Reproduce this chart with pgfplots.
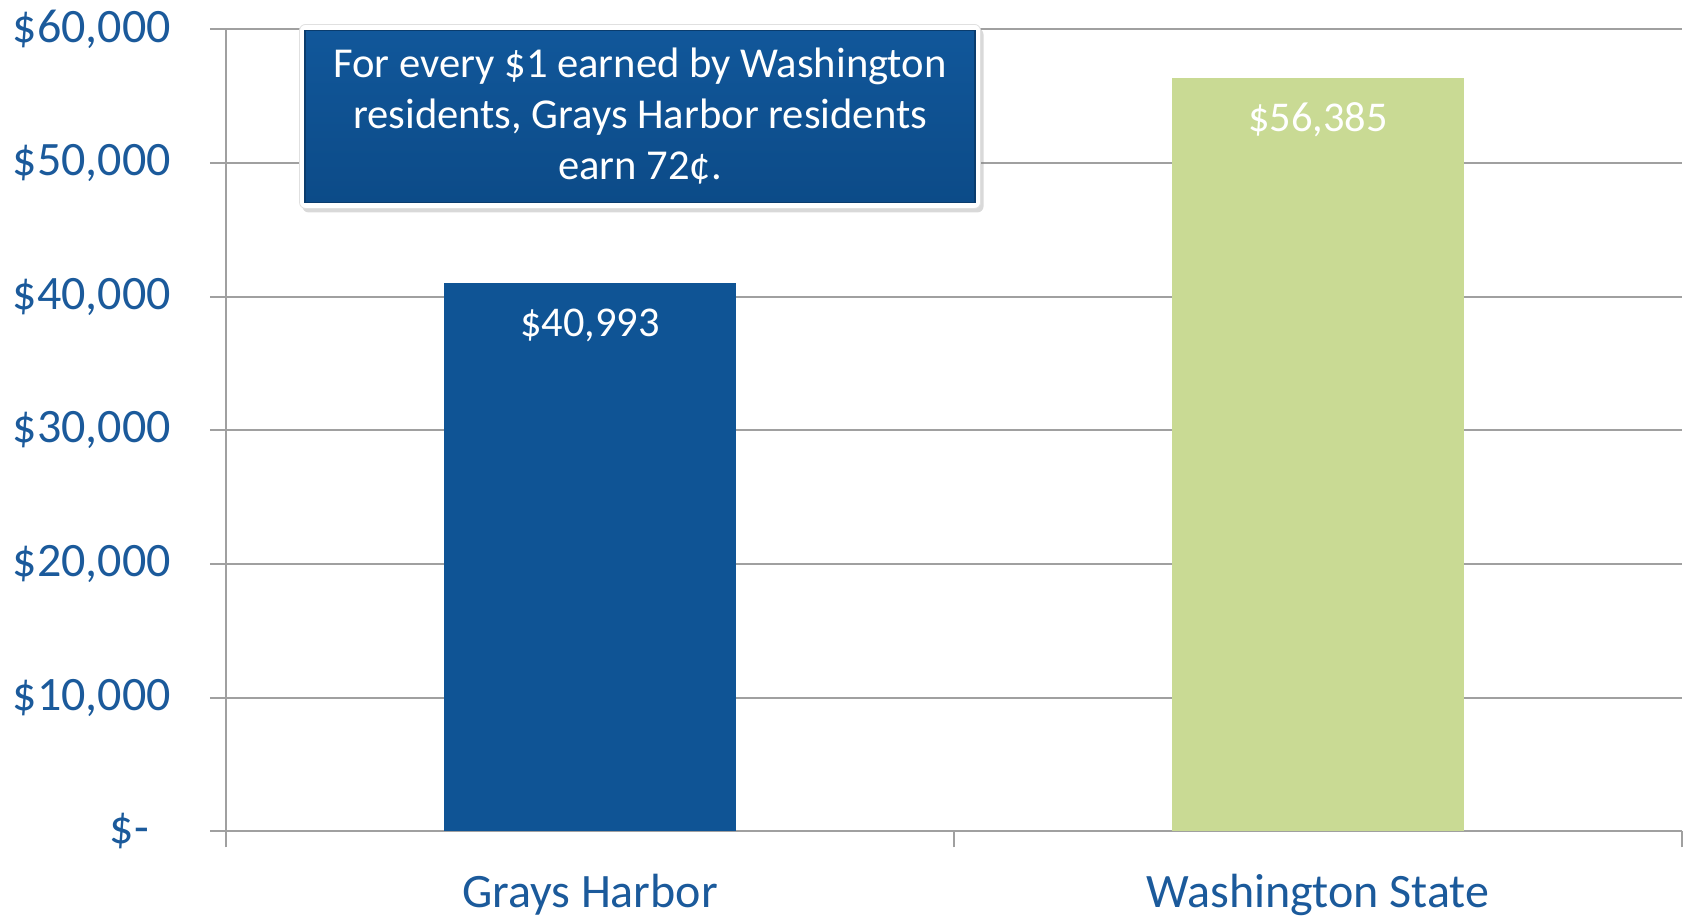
\documentclass[border=0pt]{standalone}
\usepackage{fontspec}
\setmainfont{Carlito}
\usepackage{pgfplots}
\pgfplotsset{compat=1.18}
\usetikzlibrary{shadows}
\definecolor{barblue}{HTML}{0F5495}
\definecolor{bargreen}{HTML}{C9DA94}
\definecolor{labblue}{HTML}{1B5A9B}
\definecolor{gridgray}{HTML}{A0A0A0}
\definecolor{boxtop}{HTML}{11579A}
\definecolor{boxbot}{HTML}{0C4B88}
\begin{document}
\begin{tikzpicture}
\begin{axis}[
  scale only axis, width=728pt, height=401pt,
  xmin=-0.5, xmax=1.5, ymin=0, ymax=60000,
  scaled y ticks=false,
  axis x line=bottom, axis y line=left,
  axis line style={gridgray, line width=1pt, -},
  xtick={0,1}, xticklabels={Grays Harbor, Washington State},
  minor xtick={-0.5,0.5,1.5},
  major x tick style={draw=none},
  minor x tick style={gridgray, line width=1pt},
  ytick={0,10000,20000,30000,40000,50000,60000},
  yticklabels={{\$-\hspace*{11pt}},{\$10,000},{\$20,000},{\$30,000},{\$40,000},{\$50,000},{\$60,000}},
  y tick style={gridgray, line width=1pt},
  tick align=outside, major tick length=8pt, minor tick length=8pt,
  ymajorgrids, grid style={gridgray, line width=1pt},
  yticklabel style={anchor=east, inner sep=0pt, xshift=-19.4pt, text=labblue, font=\fontsize{24}{28}\selectfont},
  xticklabel style={anchor=base, inner sep=0pt, yshift=-30pt, text=labblue, font=\fontsize{24}{28}\selectfont},
  ybar, bar width=0.4,
  point meta=explicit symbolic,
  nodes near coords,
  every node near coord/.append style={anchor=center, yshift=-21pt, text=white, font=\fontsize{21.2}{25}\selectfont},
]
\addplot[fill=barblue, draw=none, bar shift=0pt] coordinates {(0,40993) [{\$40,993}]};
\addplot[fill=bargreen, draw=none, bar shift=0pt] coordinates {(1,56385) [{\$56,385}]};
\coordinate (boxc) at (axis cs:0.0687,53480);
\end{axis}
\node[draw=black!12, fill=white, rounded corners=3pt, minimum width=340.5pt, minimum height=92pt, inner sep=0pt,
  drop shadow={opacity=0.3, shadow xshift=1.5pt, shadow yshift=-2pt}] at (boxc) {};
\node[minimum width=335pt, minimum height=86pt, inner sep=0pt, top color=boxtop, bottom color=boxbot,
  draw=boxbot!80!black, line width=0.8pt, align=center, text=white,
  font=\fontsize{21.3}{25.5}\selectfont] at (boxc) {For every \$1 earned by Washington\\residents, Grays Harbor residents\\earn 72¢.};
\pgfresetboundingbox
\path[use as bounding box] ([xshift=-113pt,yshift=-43pt]current axis.south west) rectangle ([xshift=2.5pt,yshift=14.65pt]current axis.north east);
\end{tikzpicture}
\end{document}
